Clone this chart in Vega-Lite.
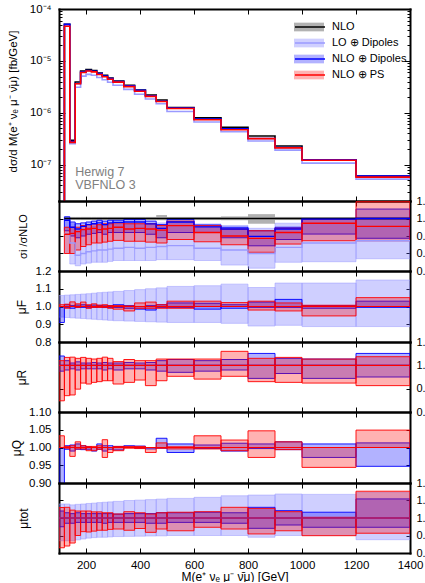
{
"$schema":"https://vega.github.io/schema/vega-lite/v6.json",
"background":"white",
"padding":{"left":7,"top":3,"right":0,"bottom":0},
"spacing":0,
"bounds":"flush",
"config":{
 "view":{"stroke":null},
 "font":"Liberation Sans",
 "axis":{"domain":true,"domainWidth":2,"domainColor":"black","domainCap":"square","grid":false,"ticks":true,"tickColor":"black","tickWidth":1,"tickSize":-4,"labelFont":"Liberation Sans","labelFontSize":11.5,"labelColor":"black","labelFlush":false,"labelOverlap":false,"labelPadding":12,"titleFont":"Liberation Sans","titleFontSize":12,"titleFontWeight":"normal","titleColor":"black","zindex":1},
 "axisX":{"tickSize":-5}
},
"datasets":{
"bins":[{"i":0,"lo":100,"hi":120},{"i":1,"lo":120,"hi":140},{"i":2,"lo":140,"hi":160},{"i":3,"lo":160,"hi":180},{"i":4,"lo":180,"hi":200},{"i":5,"lo":200,"hi":220},{"i":6,"lo":220,"hi":240},{"i":7,"lo":240,"hi":260},{"i":8,"lo":260,"hi":280},{"i":9,"lo":280,"hi":300},{"i":10,"lo":300,"hi":340},{"i":11,"lo":340,"hi":380},{"i":12,"lo":380,"hi":420},{"i":13,"lo":420,"hi":460},{"i":14,"lo":460,"hi":500},{"i":15,"lo":500,"hi":600},{"i":16,"lo":600,"hi":700},{"i":17,"lo":700,"hi":800},{"i":18,"lo":800,"hi":900},{"i":19,"lo":900,"hi":1000},{"i":20,"lo":1000,"hi":1200},{"i":21,"lo":1200,"hi":1400}],
"main":[
{"s":"NLO","i":0,"v":1e-10},{"s":"NLO","i":1,"v":5.1e-5},{"s":"NLO","i":2,"v":2.95e-7},{"s":"NLO","i":3,"v":3.92e-6},{"s":"NLO","i":4,"v":6.38e-6},{"s":"NLO","i":5,"v":6.79e-6},{"s":"NLO","i":6,"v":6.5e-6},{"s":"NLO","i":7,"v":5.85e-6},{"s":"NLO","i":8,"v":5.28e-6},{"s":"NLO","i":9,"v":4.69e-6},{"s":"NLO","i":10,"v":4.1e-6},{"s":"NLO","i":11,"v":3.39e-6},{"s":"NLO","i":12,"v":2.75e-6},{"s":"NLO","i":13,"v":2.2e-6},{"s":"NLO","i":14,"v":1.77e-6},{"s":"NLO","i":15,"v":1.26e-6},{"s":"NLO","i":16,"v":8.0e-7},{"s":"NLO","i":17,"v":5.26e-7},{"s":"NLO","i":18,"v":3.58e-7},{"s":"NLO","i":19,"v":2.29e-7},{"s":"NLO","i":20,"v":1.25e-7},{"s":"NLO","i":21,"v":6.05e-8},
{"s":"LO ⊕ Dipoles","i":0,"v":1e-10},{"s":"LO ⊕ Dipoles","i":1,"v":4.67e-5},{"s":"LO ⊕ Dipoles","i":2,"v":2.54e-7},{"s":"LO ⊕ Dipoles","i":3,"v":3.1e-6},{"s":"LO ⊕ Dipoles","i":4,"v":5.1e-6},{"s":"LO ⊕ Dipoles","i":5,"v":5.5e-6},{"s":"LO ⊕ Dipoles","i":6,"v":5.3e-6},{"s":"LO ⊕ Dipoles","i":7,"v":4.8e-6},{"s":"LO ⊕ Dipoles","i":8,"v":4.33e-6},{"s":"LO ⊕ Dipoles","i":9,"v":3.87e-6},{"s":"LO ⊕ Dipoles","i":10,"v":3.4e-6},{"s":"LO ⊕ Dipoles","i":11,"v":2.83e-6},{"s":"LO ⊕ Dipoles","i":12,"v":2.28e-6},{"s":"LO ⊕ Dipoles","i":13,"v":1.84e-6},{"s":"LO ⊕ Dipoles","i":14,"v":1.49e-6},{"s":"LO ⊕ Dipoles","i":15,"v":1.06e-6},{"s":"LO ⊕ Dipoles","i":16,"v":6.64e-7},{"s":"LO ⊕ Dipoles","i":17,"v":4.31e-7},{"s":"LO ⊕ Dipoles","i":18,"v":2.86e-7},{"s":"LO ⊕ Dipoles","i":19,"v":1.91e-7},{"s":"LO ⊕ Dipoles","i":20,"v":1.075e-7},{"s":"LO ⊕ Dipoles","i":21,"v":5.28e-8},
{"s":"NLO ⊕ Dipoles","i":0,"v":1e-10},{"s":"NLO ⊕ Dipoles","i":1,"v":5.05e-5},{"s":"NLO ⊕ Dipoles","i":2,"v":2.8e-7},{"s":"NLO ⊕ Dipoles","i":3,"v":3.68e-6},{"s":"NLO ⊕ Dipoles","i":4,"v":6.09e-6},{"s":"NLO ⊕ Dipoles","i":5,"v":6.55e-6},{"s":"NLO ⊕ Dipoles","i":6,"v":6.31e-6},{"s":"NLO ⊕ Dipoles","i":7,"v":5.7e-6},{"s":"NLO ⊕ Dipoles","i":8,"v":5.1e-6},{"s":"NLO ⊕ Dipoles","i":9,"v":4.57e-6},{"s":"NLO ⊕ Dipoles","i":10,"v":4.01e-6},{"s":"NLO ⊕ Dipoles","i":11,"v":3.32e-6},{"s":"NLO ⊕ Dipoles","i":12,"v":2.7e-6},{"s":"NLO ⊕ Dipoles","i":13,"v":2.13e-6},{"s":"NLO ⊕ Dipoles","i":14,"v":1.67e-6},{"s":"NLO ⊕ Dipoles","i":15,"v":1.235e-6},{"s":"NLO ⊕ Dipoles","i":16,"v":7.62e-7},{"s":"NLO ⊕ Dipoles","i":17,"v":4.94e-7},{"s":"NLO ⊕ Dipoles","i":18,"v":3.21e-7},{"s":"NLO ⊕ Dipoles","i":19,"v":2.15e-7},{"s":"NLO ⊕ Dipoles","i":20,"v":1.246e-7},{"s":"NLO ⊕ Dipoles","i":21,"v":6.05e-8},
{"s":"NLO ⊕ PS","i":0,"v":1e-10},{"s":"NLO ⊕ PS","i":1,"v":4.64e-5},{"s":"NLO ⊕ PS","i":2,"v":2.7e-7},{"s":"NLO ⊕ PS","i":3,"v":3.63e-6},{"s":"NLO ⊕ PS","i":4,"v":5.97e-6},{"s":"NLO ⊕ PS","i":5,"v":6.38e-6},{"s":"NLO ⊕ PS","i":6,"v":6.14e-6},{"s":"NLO ⊕ PS","i":7,"v":5.48e-6},{"s":"NLO ⊕ PS","i":8,"v":4.96e-6},{"s":"NLO ⊕ PS","i":9,"v":4.43e-6},{"s":"NLO ⊕ PS","i":10,"v":3.9e-6},{"s":"NLO ⊕ PS","i":11,"v":3.19e-6},{"s":"NLO ⊕ PS","i":12,"v":2.6e-6},{"s":"NLO ⊕ PS","i":13,"v":2.07e-6},{"s":"NLO ⊕ PS","i":14,"v":1.65e-6},{"s":"NLO ⊕ PS","i":15,"v":1.21e-6},{"s":"NLO ⊕ PS","i":16,"v":7.36e-7},{"s":"NLO ⊕ PS","i":17,"v":4.73e-7},{"s":"NLO ⊕ PS","i":18,"v":3.18e-7},{"s":"NLO ⊕ PS","i":19,"v":2.11e-7},{"s":"NLO ⊕ PS","i":20,"v":1.216e-7},{"s":"NLO ⊕ PS","i":21,"v":5.78e-8}
],
"ratio":[
{"p":"S","s":"LO ⊕ Dipoles","i":1,"c":0.915,"l":0.80,"h":0.99},{"p":"S","s":"LO ⊕ Dipoles","i":2,"c":0.86,"l":0.74,"h":0.97},{"p":"S","s":"LO ⊕ Dipoles","i":3,"c":0.79,"l":0.73,"h":0.93},{"p":"S","s":"LO ⊕ Dipoles","i":4,"c":0.80,"l":0.74,"h":0.94},{"p":"S","s":"LO ⊕ Dipoles","i":5,"c":0.81,"l":0.745,"h":0.95},{"p":"S","s":"LO ⊕ Dipoles","i":6,"c":0.815,"l":0.75,"h":0.955},{"p":"S","s":"LO ⊕ Dipoles","i":7,"c":0.82,"l":0.75,"h":0.96},{"p":"S","s":"LO ⊕ Dipoles","i":8,"c":0.82,"l":0.75,"h":0.96},{"p":"S","s":"LO ⊕ Dipoles","i":9,"c":0.825,"l":0.755,"h":0.965},{"p":"S","s":"LO ⊕ Dipoles","i":10,"c":0.83,"l":0.76,"h":0.97},{"p":"S","s":"LO ⊕ Dipoles","i":11,"c":0.835,"l":0.76,"h":0.97},{"p":"S","s":"LO ⊕ Dipoles","i":12,"c":0.83,"l":0.76,"h":0.97},{"p":"S","s":"LO ⊕ Dipoles","i":13,"c":0.835,"l":0.76,"h":0.97},{"p":"S","s":"LO ⊕ Dipoles","i":14,"c":0.84,"l":0.765,"h":0.975},{"p":"S","s":"LO ⊕ Dipoles","i":15,"c":0.845,"l":0.765,"h":0.98},{"p":"S","s":"LO ⊕ Dipoles","i":16,"c":0.83,"l":0.76,"h":0.969},{"p":"S","s":"LO ⊕ Dipoles","i":17,"c":0.82,"l":0.734,"h":0.96},{"p":"S","s":"LO ⊕ Dipoles","i":18,"c":0.80,"l":0.716,"h":0.944},{"p":"S","s":"LO ⊕ Dipoles","i":19,"c":0.835,"l":0.75,"h":0.973},{"p":"S","s":"LO ⊕ Dipoles","i":20,"c":0.86,"l":0.753,"h":0.997},{"p":"S","s":"LO ⊕ Dipoles","i":21,"c":0.873,"l":0.77,"h":1.0},
{"p":"S","s":"NLO","i":1,"c":1,"l":0.991,"h":1.009},{"p":"S","s":"NLO","i":2,"c":1,"l":0.991,"h":1.009},{"p":"S","s":"NLO","i":3,"c":1,"l":0.991,"h":1.009},{"p":"S","s":"NLO","i":4,"c":1,"l":0.991,"h":1.009},{"p":"S","s":"NLO","i":5,"c":1,"l":0.991,"h":1.009},{"p":"S","s":"NLO","i":6,"c":1,"l":0.991,"h":1.009},{"p":"S","s":"NLO","i":7,"c":1,"l":0.991,"h":1.009},{"p":"S","s":"NLO","i":8,"c":1,"l":0.991,"h":1.009},{"p":"S","s":"NLO","i":9,"c":1,"l":0.991,"h":1.009},{"p":"S","s":"NLO","i":10,"c":1,"l":0.991,"h":1.009},{"p":"S","s":"NLO","i":11,"c":1,"l":0.991,"h":1.009},{"p":"S","s":"NLO","i":12,"c":1,"l":0.991,"h":1.009},{"p":"S","s":"NLO","i":13,"c":1,"l":0.991,"h":1.009},{"p":"S","s":"NLO","i":14,"c":1,"l":0.99,"h":1.02},{"p":"S","s":"NLO","i":15,"c":1,"l":0.991,"h":1.009},{"p":"S","s":"NLO","i":16,"c":1,"l":0.991,"h":1.009},{"p":"S","s":"NLO","i":17,"c":1,"l":0.99,"h":1.012},{"p":"S","s":"NLO","i":18,"c":1,"l":0.97,"h":1.025},{"p":"S","s":"NLO","i":19,"c":1,"l":0.991,"h":1.009},{"p":"S","s":"NLO","i":20,"c":1,"l":0.991,"h":1.009},{"p":"S","s":"NLO","i":21,"c":1,"l":0.991,"h":1.009},
{"p":"S","s":"NLO ⊕ Dipoles","i":1,"c":0.99,"l":0.93,"h":1.01},{"p":"S","s":"NLO ⊕ Dipoles","i":2,"c":0.95,"l":0.90,"h":0.98},{"p":"S","s":"NLO ⊕ Dipoles","i":3,"c":0.94,"l":0.89,"h":0.97},{"p":"S","s":"NLO ⊕ Dipoles","i":4,"c":0.955,"l":0.90,"h":0.975},{"p":"S","s":"NLO ⊕ Dipoles","i":5,"c":0.965,"l":0.91,"h":0.98},{"p":"S","s":"NLO ⊕ Dipoles","i":6,"c":0.97,"l":0.915,"h":0.985},{"p":"S","s":"NLO ⊕ Dipoles","i":7,"c":0.975,"l":0.92,"h":0.99},{"p":"S","s":"NLO ⊕ Dipoles","i":8,"c":0.965,"l":0.91,"h":0.985},{"p":"S","s":"NLO ⊕ Dipoles","i":9,"c":0.975,"l":0.92,"h":0.99},{"p":"S","s":"NLO ⊕ Dipoles","i":10,"c":0.978,"l":0.92,"h":0.99},{"p":"S","s":"NLO ⊕ Dipoles","i":11,"c":0.98,"l":0.92,"h":0.995},{"p":"S","s":"NLO ⊕ Dipoles","i":12,"c":0.98,"l":0.92,"h":0.995},{"p":"S","s":"NLO ⊕ Dipoles","i":13,"c":0.969,"l":0.91,"h":0.985},{"p":"S","s":"NLO ⊕ Dipoles","i":14,"c":0.944,"l":0.89,"h":0.965},{"p":"S","s":"NLO ⊕ Dipoles","i":15,"c":0.98,"l":0.92,"h":0.995},{"p":"S","s":"NLO ⊕ Dipoles","i":16,"c":0.952,"l":0.92,"h":0.963},{"p":"S","s":"NLO ⊕ Dipoles","i":17,"c":0.94,"l":0.89,"h":0.95},{"p":"S","s":"NLO ⊕ Dipoles","i":18,"c":0.898,"l":0.844,"h":0.93},{"p":"S","s":"NLO ⊕ Dipoles","i":19,"c":0.94,"l":0.88,"h":0.95},{"p":"S","s":"NLO ⊕ Dipoles","i":20,"c":0.997,"l":0.911,"h":1.0},{"p":"S","s":"NLO ⊕ Dipoles","i":21,"c":1.0,"l":0.887,"h":1.054},
{"p":"S","s":"NLO ⊕ PS","i":1,"c":0.91,"l":0.80,"h":0.95},{"p":"S","s":"NLO ⊕ PS","i":2,"c":0.915,"l":0.80,"h":0.95},{"p":"S","s":"NLO ⊕ PS","i":3,"c":0.925,"l":0.82,"h":0.95},{"p":"S","s":"NLO ⊕ PS","i":4,"c":0.936,"l":0.84,"h":0.96},{"p":"S","s":"NLO ⊕ PS","i":5,"c":0.94,"l":0.85,"h":0.965},{"p":"S","s":"NLO ⊕ PS","i":6,"c":0.944,"l":0.86,"h":0.97},{"p":"S","s":"NLO ⊕ PS","i":7,"c":0.936,"l":0.86,"h":0.965},{"p":"S","s":"NLO ⊕ PS","i":8,"c":0.94,"l":0.865,"h":0.97},{"p":"S","s":"NLO ⊕ PS","i":9,"c":0.944,"l":0.87,"h":0.97},{"p":"S","s":"NLO ⊕ PS","i":10,"c":0.95,"l":0.875,"h":0.975},{"p":"S","s":"NLO ⊕ PS","i":11,"c":0.94,"l":0.87,"h":0.97},{"p":"S","s":"NLO ⊕ PS","i":12,"c":0.944,"l":0.87,"h":0.97},{"p":"S","s":"NLO ⊕ PS","i":13,"c":0.94,"l":0.865,"h":0.97},{"p":"S","s":"NLO ⊕ PS","i":14,"c":0.934,"l":0.86,"h":0.96},{"p":"S","s":"NLO ⊕ PS","i":15,"c":0.959,"l":0.88,"h":0.985},{"p":"S","s":"NLO ⊕ PS","i":16,"c":0.92,"l":0.867,"h":0.959},{"p":"S","s":"NLO ⊕ PS","i":17,"c":0.90,"l":0.85,"h":0.94},{"p":"S","s":"NLO ⊕ PS","i":18,"c":0.887,"l":0.807,"h":0.93},{"p":"S","s":"NLO ⊕ PS","i":19,"c":0.92,"l":0.854,"h":0.944},{"p":"S","s":"NLO ⊕ PS","i":20,"c":0.973,"l":0.873,"h":0.997},{"p":"S","s":"NLO ⊕ PS","i":21,"c":0.955,"l":0.873,"h":1.096},
{"p":"F","s":"LO ⊕ Dipoles","i":0,"l":0.94,"h":1.062},{"p":"F","s":"LO ⊕ Dipoles","i":1,"l":0.938,"h":1.064},{"p":"F","s":"LO ⊕ Dipoles","i":2,"l":0.936,"h":1.066},{"p":"F","s":"LO ⊕ Dipoles","i":3,"l":0.934,"h":1.068},{"p":"F","s":"LO ⊕ Dipoles","i":4,"l":0.932,"h":1.07},{"p":"F","s":"LO ⊕ Dipoles","i":5,"l":0.93,"h":1.072},{"p":"F","s":"LO ⊕ Dipoles","i":6,"l":0.928,"h":1.075},{"p":"F","s":"LO ⊕ Dipoles","i":7,"l":0.926,"h":1.078},{"p":"F","s":"LO ⊕ Dipoles","i":8,"l":0.924,"h":1.08},{"p":"F","s":"LO ⊕ Dipoles","i":9,"l":0.922,"h":1.082},{"p":"F","s":"LO ⊕ Dipoles","i":10,"l":0.92,"h":1.085},{"p":"F","s":"LO ⊕ Dipoles","i":11,"l":0.918,"h":1.09},{"p":"F","s":"LO ⊕ Dipoles","i":12,"l":0.916,"h":1.095},{"p":"F","s":"LO ⊕ Dipoles","i":13,"l":0.914,"h":1.1},{"p":"F","s":"LO ⊕ Dipoles","i":14,"l":0.912,"h":1.105},{"p":"F","s":"LO ⊕ Dipoles","i":15,"l":0.91,"h":1.113},{"p":"F","s":"LO ⊕ Dipoles","i":16,"l":0.91,"h":1.117},{"p":"F","s":"LO ⊕ Dipoles","i":17,"l":0.905,"h":1.126},{"p":"F","s":"LO ⊕ Dipoles","i":18,"l":0.89,"h":1.107},{"p":"F","s":"LO ⊕ Dipoles","i":19,"l":0.894,"h":1.132},{"p":"F","s":"LO ⊕ Dipoles","i":20,"l":0.887,"h":1.132},{"p":"F","s":"LO ⊕ Dipoles","i":21,"l":0.887,"h":1.149},
{"p":"F","s":"NLO ⊕ Dipoles","i":0,"l":0.91,"h":1.0},{"p":"F","s":"NLO ⊕ Dipoles","i":1,"l":0.995,"h":1.01},{"p":"F","s":"NLO ⊕ Dipoles","i":2,"l":0.99,"h":1.005},{"p":"F","s":"NLO ⊕ Dipoles","i":3,"l":0.995,"h":1.008},{"p":"F","s":"NLO ⊕ Dipoles","i":4,"l":0.995,"h":1.01},{"p":"F","s":"NLO ⊕ Dipoles","i":5,"l":0.993,"h":1.005},{"p":"F","s":"NLO ⊕ Dipoles","i":6,"l":0.995,"h":1.008},{"p":"F","s":"NLO ⊕ Dipoles","i":7,"l":0.996,"h":1.006},{"p":"F","s":"NLO ⊕ Dipoles","i":8,"l":0.994,"h":1.004},{"p":"F","s":"NLO ⊕ Dipoles","i":9,"l":0.995,"h":1.005},{"p":"F","s":"NLO ⊕ Dipoles","i":10,"l":0.995,"h":1.01},{"p":"F","s":"NLO ⊕ Dipoles","i":11,"l":0.99,"h":1.005},{"p":"F","s":"NLO ⊕ Dipoles","i":12,"l":0.985,"h":1.0},{"p":"F","s":"NLO ⊕ Dipoles","i":13,"l":0.98,"h":1.005},{"p":"F","s":"NLO ⊕ Dipoles","i":14,"l":0.995,"h":1.01},{"p":"F","s":"NLO ⊕ Dipoles","i":15,"l":0.995,"h":1.02},{"p":"F","s":"NLO ⊕ Dipoles","i":16,"l":0.985,"h":1.018},{"p":"F","s":"NLO ⊕ Dipoles","i":17,"l":0.99,"h":1.01},{"p":"F","s":"NLO ⊕ Dipoles","i":18,"l":0.995,"h":1.025},{"p":"F","s":"NLO ⊕ Dipoles","i":19,"l":0.995,"h":1.04},{"p":"F","s":"NLO ⊕ Dipoles","i":20,"l":0.99,"h":1.005},{"p":"F","s":"NLO ⊕ Dipoles","i":21,"l":0.995,"h":1.03},
{"p":"F","s":"NLO ⊕ PS","i":0,"l":1.0,"h":1.01},{"p":"F","s":"NLO ⊕ PS","i":1,"l":0.99,"h":1.013},{"p":"F","s":"NLO ⊕ PS","i":2,"l":1.0,"h":1.026},{"p":"F","s":"NLO ⊕ PS","i":3,"l":0.995,"h":1.015},{"p":"F","s":"NLO ⊕ PS","i":4,"l":1.0,"h":1.025},{"p":"F","s":"NLO ⊕ PS","i":5,"l":0.99,"h":1.01},{"p":"F","s":"NLO ⊕ PS","i":6,"l":0.995,"h":1.015},{"p":"F","s":"NLO ⊕ PS","i":7,"l":0.995,"h":1.008},{"p":"F","s":"NLO ⊕ PS","i":8,"l":0.995,"h":1.01},{"p":"F","s":"NLO ⊕ PS","i":9,"l":0.99,"h":1.005},{"p":"F","s":"NLO ⊕ PS","i":10,"l":0.985,"h":1.005},{"p":"F","s":"NLO ⊕ PS","i":11,"l":0.975,"h":1.003},{"p":"F","s":"NLO ⊕ PS","i":12,"l":0.99,"h":1.02},{"p":"F","s":"NLO ⊕ PS","i":13,"l":0.99,"h":1.025},{"p":"F","s":"NLO ⊕ PS","i":14,"l":0.99,"h":1.01},{"p":"F","s":"NLO ⊕ PS","i":15,"l":0.99,"h":1.03},{"p":"F","s":"NLO ⊕ PS","i":16,"l":1.0,"h":1.03},{"p":"F","s":"NLO ⊕ PS","i":17,"l":1.0,"h":1.022},{"p":"F","s":"NLO ⊕ PS","i":18,"l":0.98,"h":1.03},{"p":"F","s":"NLO ⊕ PS","i":19,"l":0.975,"h":1.02},{"p":"F","s":"NLO ⊕ PS","i":20,"l":0.947,"h":1.007},{"p":"F","s":"NLO ⊕ PS","i":21,"l":1.0,"h":1.05},
{"p":"R","s":"NLO ⊕ Dipoles","i":0,"l":0.975,"h":1.04},{"p":"R","s":"NLO ⊕ Dipoles","i":1,"l":0.98,"h":1.02},{"p":"R","s":"NLO ⊕ Dipoles","i":2,"l":0.985,"h":1.01},{"p":"R","s":"NLO ⊕ Dipoles","i":3,"l":0.98,"h":1.015},{"p":"R","s":"NLO ⊕ Dipoles","i":4,"l":0.985,"h":1.01},{"p":"R","s":"NLO ⊕ Dipoles","i":5,"l":0.985,"h":1.01},{"p":"R","s":"NLO ⊕ Dipoles","i":6,"l":0.985,"h":1.012},{"p":"R","s":"NLO ⊕ Dipoles","i":7,"l":0.985,"h":1.01},{"p":"R","s":"NLO ⊕ Dipoles","i":8,"l":0.98,"h":1.012},{"p":"R","s":"NLO ⊕ Dipoles","i":9,"l":0.985,"h":1.01},{"p":"R","s":"NLO ⊕ Dipoles","i":10,"l":0.98,"h":1.01},{"p":"R","s":"NLO ⊕ Dipoles","i":11,"l":0.985,"h":1.012},{"p":"R","s":"NLO ⊕ Dipoles","i":12,"l":0.985,"h":1.01},{"p":"R","s":"NLO ⊕ Dipoles","i":13,"l":0.98,"h":1.012},{"p":"R","s":"NLO ⊕ Dipoles","i":14,"l":0.975,"h":1.02},{"p":"R","s":"NLO ⊕ Dipoles","i":15,"l":0.97,"h":1.025},{"p":"R","s":"NLO ⊕ Dipoles","i":16,"l":0.975,"h":1.02},{"p":"R","s":"NLO ⊕ Dipoles","i":17,"l":0.98,"h":1.025},{"p":"R","s":"NLO ⊕ Dipoles","i":18,"l":0.944,"h":1.051},{"p":"R","s":"NLO ⊕ Dipoles","i":19,"l":0.965,"h":1.03},{"p":"R","s":"NLO ⊕ Dipoles","i":20,"l":0.944,"h":1.027},{"p":"R","s":"NLO ⊕ Dipoles","i":21,"l":0.95,"h":1.051},
{"p":"R","s":"NLO ⊕ PS","i":0,"l":0.848,"h":1.02},{"p":"R","s":"NLO ⊕ PS","i":1,"l":0.87,"h":1.034},{"p":"R","s":"NLO ⊕ PS","i":2,"l":0.873,"h":1.035},{"p":"R","s":"NLO ⊕ PS","i":3,"l":0.898,"h":1.03},{"p":"R","s":"NLO ⊕ PS","i":4,"l":0.924,"h":1.034},{"p":"R","s":"NLO ⊕ PS","i":5,"l":0.92,"h":1.03},{"p":"R","s":"NLO ⊕ PS","i":6,"l":0.927,"h":1.027},{"p":"R","s":"NLO ⊕ PS","i":7,"l":0.93,"h":1.03},{"p":"R","s":"NLO ⊕ PS","i":8,"l":0.934,"h":1.035},{"p":"R","s":"NLO ⊕ PS","i":9,"l":0.934,"h":1.03},{"p":"R","s":"NLO ⊕ PS","i":10,"l":0.92,"h":1.016},{"p":"R","s":"NLO ⊕ PS","i":11,"l":0.927,"h":1.025},{"p":"R","s":"NLO ⊕ PS","i":12,"l":0.937,"h":1.02},{"p":"R","s":"NLO ⊕ PS","i":13,"l":0.913,"h":1.02},{"p":"R","s":"NLO ⊕ PS","i":14,"l":0.934,"h":1.027},{"p":"R","s":"NLO ⊕ PS","i":15,"l":0.953,"h":1.027},{"p":"R","s":"NLO ⊕ PS","i":16,"l":0.941,"h":1.027},{"p":"R","s":"NLO ⊕ PS","i":17,"l":0.953,"h":1.06},{"p":"R","s":"NLO ⊕ PS","i":18,"l":0.93,"h":1.03},{"p":"R","s":"NLO ⊕ PS","i":19,"l":0.927,"h":1.034},{"p":"R","s":"NLO ⊕ PS","i":20,"l":0.924,"h":1.027},{"p":"R","s":"NLO ⊕ PS","i":21,"l":0.913,"h":1.037},
{"p":"Q","s":"NLO ⊕ Dipoles","i":0,"l":0.85,"h":1.0},{"p":"Q","s":"NLO ⊕ Dipoles","i":1,"l":0.995,"h":1.005},{"p":"Q","s":"NLO ⊕ Dipoles","i":2,"l":0.99,"h":1.007},{"p":"Q","s":"NLO ⊕ Dipoles","i":3,"l":0.995,"h":1.01},{"p":"Q","s":"NLO ⊕ Dipoles","i":4,"l":0.994,"h":1.005},{"p":"Q","s":"NLO ⊕ Dipoles","i":5,"l":0.995,"h":1.002},{"p":"Q","s":"NLO ⊕ Dipoles","i":6,"l":0.99,"h":1.0},{"p":"Q","s":"NLO ⊕ Dipoles","i":7,"l":0.995,"h":1.01},{"p":"Q","s":"NLO ⊕ Dipoles","i":8,"l":0.99,"h":1.005},{"p":"Q","s":"NLO ⊕ Dipoles","i":9,"l":0.995,"h":1.005},{"p":"Q","s":"NLO ⊕ Dipoles","i":10,"l":0.993,"h":1.003},{"p":"Q","s":"NLO ⊕ Dipoles","i":11,"l":1.0,"h":1.005},{"p":"Q","s":"NLO ⊕ Dipoles","i":12,"l":0.998,"h":1.004},{"p":"Q","s":"NLO ⊕ Dipoles","i":13,"l":0.996,"h":1.0},{"p":"Q","s":"NLO ⊕ Dipoles","i":14,"l":0.998,"h":1.026},{"p":"Q","s":"NLO ⊕ Dipoles","i":15,"l":0.986,"h":1.01},{"p":"Q","s":"NLO ⊕ Dipoles","i":16,"l":0.997,"h":1.007},{"p":"Q","s":"NLO ⊕ Dipoles","i":17,"l":0.99,"h":1.012},{"p":"Q","s":"NLO ⊕ Dipoles","i":18,"l":0.997,"h":1.01},{"p":"Q","s":"NLO ⊕ Dipoles","i":19,"l":0.994,"h":1.016},{"p":"Q","s":"NLO ⊕ Dipoles","i":20,"l":0.972,"h":1.01},{"p":"Q","s":"NLO ⊕ Dipoles","i":21,"l":0.947,"h":1.013},
{"p":"Q","s":"NLO ⊕ PS","i":0,"l":1.0,"h":1.033},{"p":"Q","s":"NLO ⊕ PS","i":1,"l":0.998,"h":1.003},{"p":"Q","s":"NLO ⊕ PS","i":2,"l":0.975,"h":1.005},{"p":"Q","s":"NLO ⊕ PS","i":3,"l":0.996,"h":1.016},{"p":"Q","s":"NLO ⊕ PS","i":4,"l":0.996,"h":1.005},{"p":"Q","s":"NLO ⊕ PS","i":5,"l":0.991,"h":1.003},{"p":"Q","s":"NLO ⊕ PS","i":6,"l":0.991,"h":1.003},{"p":"Q","s":"NLO ⊕ PS","i":7,"l":0.995,"h":1.005},{"p":"Q","s":"NLO ⊕ PS","i":8,"l":0.972,"h":1.022},{"p":"Q","s":"NLO ⊕ PS","i":9,"l":0.986,"h":1.0},{"p":"Q","s":"NLO ⊕ PS","i":10,"l":0.991,"h":1.003},{"p":"Q","s":"NLO ⊕ PS","i":11,"l":0.998,"h":1.003},{"p":"Q","s":"NLO ⊕ PS","i":12,"l":0.997,"h":1.003},{"p":"Q","s":"NLO ⊕ PS","i":13,"l":0.986,"h":1.0},{"p":"Q","s":"NLO ⊕ PS","i":14,"l":0.998,"h":1.013},{"p":"Q","s":"NLO ⊕ PS","i":15,"l":0.996,"h":1.002},{"p":"Q","s":"NLO ⊕ PS","i":16,"l":0.996,"h":1.033},{"p":"Q","s":"NLO ⊕ PS","i":17,"l":0.991,"h":1.021},{"p":"Q","s":"NLO ⊕ PS","i":18,"l":0.972,"h":1.047},{"p":"Q","s":"NLO ⊕ PS","i":19,"l":0.994,"h":1.016},{"p":"Q","s":"NLO ⊕ PS","i":20,"l":0.944,"h":1.0},{"p":"Q","s":"NLO ⊕ PS","i":21,"l":1.0,"h":1.049},
{"p":"T","s":"LO ⊕ Dipoles","i":0,"l":0.87,"h":1.08},{"p":"T","s":"LO ⊕ Dipoles","i":1,"l":0.87,"h":1.08},{"p":"T","s":"LO ⊕ Dipoles","i":2,"l":0.87,"h":1.075},{"p":"T","s":"LO ⊕ Dipoles","i":3,"l":0.875,"h":1.078},{"p":"T","s":"LO ⊕ Dipoles","i":4,"l":0.88,"h":1.08},{"p":"T","s":"LO ⊕ Dipoles","i":5,"l":0.885,"h":1.083},{"p":"T","s":"LO ⊕ Dipoles","i":6,"l":0.888,"h":1.085},{"p":"T","s":"LO ⊕ Dipoles","i":7,"l":0.89,"h":1.088},{"p":"T","s":"LO ⊕ Dipoles","i":8,"l":0.89,"h":1.09},{"p":"T","s":"LO ⊕ Dipoles","i":9,"l":0.892,"h":1.092},{"p":"T","s":"LO ⊕ Dipoles","i":10,"l":0.894,"h":1.095},{"p":"T","s":"LO ⊕ Dipoles","i":11,"l":0.895,"h":1.1},{"p":"T","s":"LO ⊕ Dipoles","i":12,"l":0.896,"h":1.102},{"p":"T","s":"LO ⊕ Dipoles","i":13,"l":0.897,"h":1.105},{"p":"T","s":"LO ⊕ Dipoles","i":14,"l":0.898,"h":1.108},{"p":"T","s":"LO ⊕ Dipoles","i":15,"l":0.9,"h":1.112},{"p":"T","s":"LO ⊕ Dipoles","i":16,"l":0.9,"h":1.118},{"p":"T","s":"LO ⊕ Dipoles","i":17,"l":0.9,"h":1.127},{"p":"T","s":"LO ⊕ Dipoles","i":18,"l":0.89,"h":1.131},{"p":"T","s":"LO ⊕ Dipoles","i":19,"l":0.9,"h":1.137},{"p":"T","s":"LO ⊕ Dipoles","i":20,"l":0.9,"h":1.135},{"p":"T","s":"LO ⊕ Dipoles","i":21,"l":0.876,"h":1.147},
{"p":"T","s":"NLO ⊕ Dipoles","i":0,"l":0.95,"h":1.04},{"p":"T","s":"NLO ⊕ Dipoles","i":1,"l":0.97,"h":1.03},{"p":"T","s":"NLO ⊕ Dipoles","i":2,"l":0.97,"h":1.025},{"p":"T","s":"NLO ⊕ Dipoles","i":3,"l":0.975,"h":1.03},{"p":"T","s":"NLO ⊕ Dipoles","i":4,"l":0.975,"h":1.025},{"p":"T","s":"NLO ⊕ Dipoles","i":5,"l":0.975,"h":1.025},{"p":"T","s":"NLO ⊕ Dipoles","i":6,"l":0.975,"h":1.025},{"p":"T","s":"NLO ⊕ Dipoles","i":7,"l":0.975,"h":1.025},{"p":"T","s":"NLO ⊕ Dipoles","i":8,"l":0.97,"h":1.025},{"p":"T","s":"NLO ⊕ Dipoles","i":9,"l":0.975,"h":1.025},{"p":"T","s":"NLO ⊕ Dipoles","i":10,"l":0.975,"h":1.022},{"p":"T","s":"NLO ⊕ Dipoles","i":11,"l":0.975,"h":1.025},{"p":"T","s":"NLO ⊕ Dipoles","i":12,"l":0.975,"h":1.025},{"p":"T","s":"NLO ⊕ Dipoles","i":13,"l":0.97,"h":1.025},{"p":"T","s":"NLO ⊕ Dipoles","i":14,"l":0.97,"h":1.03},{"p":"T","s":"NLO ⊕ Dipoles","i":15,"l":0.975,"h":1.03},{"p":"T","s":"NLO ⊕ Dipoles","i":16,"l":0.975,"h":1.033},{"p":"T","s":"NLO ⊕ Dipoles","i":17,"l":0.97,"h":1.03},{"p":"T","s":"NLO ⊕ Dipoles","i":18,"l":0.941,"h":1.061},{"p":"T","s":"NLO ⊕ Dipoles","i":19,"l":0.96,"h":1.042},{"p":"T","s":"NLO ⊕ Dipoles","i":20,"l":0.947,"h":1.033},{"p":"T","s":"NLO ⊕ Dipoles","i":21,"l":0.947,"h":1.109},
{"p":"T","s":"NLO ⊕ PS","i":0,"l":0.83,"h":1.06},{"p":"T","s":"NLO ⊕ PS","i":1,"l":0.84,"h":1.061},{"p":"T","s":"NLO ⊕ PS","i":2,"l":0.857,"h":1.045},{"p":"T","s":"NLO ⊕ PS","i":3,"l":0.9,"h":1.04},{"p":"T","s":"NLO ⊕ PS","i":4,"l":0.922,"h":1.04},{"p":"T","s":"NLO ⊕ PS","i":5,"l":0.92,"h":1.04},{"p":"T","s":"NLO ⊕ PS","i":6,"l":0.925,"h":1.035},{"p":"T","s":"NLO ⊕ PS","i":7,"l":0.93,"h":1.035},{"p":"T","s":"NLO ⊕ PS","i":8,"l":0.93,"h":1.03},{"p":"T","s":"NLO ⊕ PS","i":9,"l":0.935,"h":1.03},{"p":"T","s":"NLO ⊕ PS","i":10,"l":0.937,"h":1.023},{"p":"T","s":"NLO ⊕ PS","i":11,"l":0.93,"h":1.036},{"p":"T","s":"NLO ⊕ PS","i":12,"l":0.94,"h":1.03},{"p":"T","s":"NLO ⊕ PS","i":13,"l":0.918,"h":1.023},{"p":"T","s":"NLO ⊕ PS","i":14,"l":0.937,"h":1.03},{"p":"T","s":"NLO ⊕ PS","i":15,"l":0.927,"h":1.033},{"p":"T","s":"NLO ⊕ PS","i":16,"l":0.947,"h":1.036},{"p":"T","s":"NLO ⊕ PS","i":17,"l":0.937,"h":1.061},{"p":"T","s":"NLO ⊕ PS","i":18,"l":0.909,"h":1.055},{"p":"T","s":"NLO ⊕ PS","i":19,"l":0.927,"h":1.036},{"p":"T","s":"NLO ⊕ PS","i":20,"l":0.899,"h":1.004},{"p":"T","s":"NLO ⊕ PS","i":21,"l":0.913,"h":1.153}
]
},
"vconcat":[
{
 "width":351,"height":192,
 "layer":[
  {"data":{"name":"main"},
   "transform":[{"lookup":"i","from":{"data":{"name":"bins"},"key":"i","fields":["lo","hi"]}},{"fold":["lo","hi"],"as":["edge","x"]}],
   "mark":{"type":"line","clip":true,"strokeWidth":1.6},
   "encoding":{
    "x":{"field":"x","type":"quantitative","scale":{"domain":[100,1400],"nice":false},"axis":{"orient":"bottom","values":[200,400,600,800,1000,1200],"labels":false,"title":null}},
    "y":{"field":"v","type":"quantitative","scale":{"type":"log","domain":[2e-8,1e-4],"nice":false},"axis":{"orient":"left","values":[2e-8,3e-8,4e-8,5e-8,6e-8,7e-8,8e-8,9e-8,1e-7,2e-7,3e-7,4e-7,5e-7,6e-7,7e-7,8e-7,9e-7,1e-6,2e-6,3e-6,4e-6,5e-6,6e-6,7e-6,8e-6,9e-6,1e-5,2e-5,3e-5,4e-5,5e-5,6e-5,7e-5,8e-5,9e-5,1e-4],"tickSize":{"condition":{"test":"indexof([1e-7,1e-6,1e-5,1e-4], datum.value) >= 0","value":-6},"value":-3},"labelExpr":"datum.value==1e-4?'10⁻⁴':datum.value==1e-5?'10⁻⁵':datum.value==1e-6?'10⁻⁶':datum.value==1e-7?'10⁻⁷':''","labelPadding":14,"title":"dσ/d M(e⁺ νₑ μ⁻ ν̄μ) [fb/GeV]","titleX":-45.5,"titleY":92,"titleBaseline":"middle","titleFontSize":11.5}},
    "stroke":{"field":"s","type":"nominal","scale":{"domain":["NLO","LO ⊕ Dipoles","NLO ⊕ Dipoles","NLO ⊕ PS"],"range":["#000000","#9a9aff","#0000ff","#ff0000"]},"legend":{"title":null,"orient":"none","legendX":235,"legendY":10,"symbolType":"M-1,-0.55M-1,0.55M-1,0H1","symbolSize":900,"symbolStrokeWidth":1.5,"clipHeight":16,"rowPadding":0,"padding":0,"labelFontSize":11,"labelOffset":6,"labelFont":"Liberation Sans","labelColor":"black","zindex":2}},
    "order":{"value":null}
   }},
  {"data":{"values":[{"a":1}]},
   "mark":{"type":"text","align":"left","baseline":"alphabetic","fontSize":12.5,"color":"#808080","lineBreak":"\n","lineHeight":13},
   "encoding":{
    "x":{"datum":160,"type":"quantitative","scale":{"domain":[100,1400],"nice":false},"axis":{"orient":"top","values":[200,400,600,800,1000,1200],"labels":false,"title":null}},
    "y":{"datum":5.98e-8,"type":"quantitative","scale":{"type":"log","domain":[2e-8,1e-4],"nice":false},"axis":{"orient":"right","values":[2e-8,3e-8,4e-8,5e-8,6e-8,7e-8,8e-8,9e-8,1e-7,2e-7,3e-7,4e-7,5e-7,6e-7,7e-7,8e-7,9e-7,1e-6,2e-6,3e-6,4e-6,5e-6,6e-6,7e-6,8e-6,9e-6,1e-5,2e-5,3e-5,4e-5,5e-5,6e-5,7e-5,8e-5,9e-5,1e-4],"tickSize":{"condition":{"test":"indexof([1e-7,1e-6,1e-5,1e-4], datum.value) >= 0","value":-6},"value":-3},"labels":false,"title":null}},
    "text":{"value":"Herwig 7\nVBFNLO 3"}
   }}
 ],
 "resolve":{"axis":{"x":"independent","y":"independent"}}
},
{
 "width":351,"height":70,
 "layer":[
  {"data":{"name":"ratio"},
   "transform":[{"filter":"datum.p==='S'"},{"lookup":"i","from":{"data":{"name":"bins"},"key":"i","fields":["lo","hi"]}}],
   "mark":{"type":"rect","clip":true,"fillOpacity":0.3,"strokeWidth":1},
   "encoding":{
    "x":{"field":"lo","type":"quantitative","scale":{"domain":[100,1400],"nice":false},"axis":{"orient":"bottom","values":[200,400,600,800,1000,1200],"labels":false,"title":null}},
    "x2":{"field":"hi"},
    "y":{"field":"l","type":"quantitative","scale":{"domain":[0.7,1.1],"nice":false},"axis":{"orient":"left","values":[0.7,0.8,0.9,1.0,1.1],"labels":false,"title":"σi /σNLO","titleX":-35.5,"titleY":35,"titleBaseline":"middle","titleFontSize":11}},
    "y2":{"field":"h"},
    "fill":{"field":"s","type":"nominal","sort":["NLO","LO ⊕ Dipoles","NLO ⊕ Dipoles","NLO ⊕ PS"],"scale":{"range":["#000000","#6060ff","#0000ff","#ff0000"]},"legend":{"title":null,"orient":"none","legendX":235,"legendY":10,"symbolType":"M-1,-0.55M-1,0.55M-1,-0.29H1V0.29H-1Z","symbolSize":900,"symbolStrokeWidth":0,"symbolOpacity":0.3,"clipHeight":16,"rowPadding":0,"padding":0,"labelFontSize":11,"labelOffset":6,"labelExpr":"''","zindex":1}},
    "stroke":{"field":"s","type":"nominal","scale":{"domain":["NLO","LO ⊕ Dipoles","NLO ⊕ Dipoles","NLO ⊕ PS"],"range":["#000000","#9a9aff","#0000ff","#ff0000"]}},
    "strokeOpacity":{"condition":[{"test":"datum.s==='NLO'","value":0},{"test":"datum.s==='LO ⊕ Dipoles'","value":0.5}],"value":0.9}
   }},
  {"data":{"name":"ratio"},
   "transform":[{"filter":"datum.p==='S'"},{"lookup":"i","from":{"data":{"name":"bins"},"key":"i","fields":["lo","hi"]}},{"fold":["lo","hi"],"as":["edge","x"]}],
   "mark":{"type":"line","clip":true,"strokeWidth":1.3},
   "encoding":{
    "x":{"field":"x","type":"quantitative","scale":{"domain":[100,1400],"nice":false},"axis":{"orient":"top","values":[200,400,600,800,1000,1200],"labels":false,"title":null}},
    "y":{"field":"c","type":"quantitative","scale":{"domain":[0.7,1.1],"nice":false},"axis":{"orient":"right","values":[0.7,0.8,0.9,1.0,1.1],"labelExpr":"slice(format(datum.value,'.1f'),0,2)","labelPadding":10,"labelFontSize":11,"title":null}},
    "stroke":{"field":"s","type":"nominal","scale":{"domain":["NLO","LO ⊕ Dipoles","NLO ⊕ Dipoles","NLO ⊕ PS"],"range":["#000000","#9a9aff","#0000ff","#ff0000"]}},
    "order":{"value":null}
   }}
 ],
 "resolve":{"axis":{"x":"independent","y":"independent"}}
},
{
 "width":351,"height":71,
 "layer":[
  {"data":{"name":"ratio"},
   "transform":[{"filter":"datum.p==='F'"},{"lookup":"i","from":{"data":{"name":"bins"},"key":"i","fields":["lo","hi"]}}],
   "mark":{"type":"rect","clip":true,"fillOpacity":0.3,"strokeWidth":1},
   "encoding":{
    "x":{"field":"lo","type":"quantitative","scale":{"domain":[100,1400],"nice":false},"axis":{"orient":"bottom","values":[200,400,600,800,1000,1200],"labels":false,"title":null}},
    "x2":{"field":"hi"},
    "y":{"field":"l","type":"quantitative","scale":{"domain":[0.8,1.2],"nice":false},"axis":{"orient":"left","values":[0.8,0.9,1.0,1.1,1.2],"format":".1f","labelPadding":12,"title":"μF","titleX":-37.2,"titleY":35.5,"titleBaseline":"middle"}},
    "y2":{"field":"h"},
    "fill":{"field":"s","type":"nominal","sort":["NLO","LO ⊕ Dipoles","NLO ⊕ Dipoles","NLO ⊕ PS"],"scale":{"range":["#000000","#6060ff","#0000ff","#ff0000"]}},
    "stroke":{"field":"s","type":"nominal","scale":{"domain":["NLO","LO ⊕ Dipoles","NLO ⊕ Dipoles","NLO ⊕ PS"],"range":["#000000","#9a9aff","#0000ff","#ff0000"]}},
    "strokeOpacity":{"condition":[{"test":"datum.s==='NLO'","value":0},{"test":"datum.s==='LO ⊕ Dipoles'","value":0.5}],"value":0.9}
   }},
  {"data":{"name":"ratio"},
   "transform":[{"filter":"datum.p==='F'"},{"lookup":"i","from":{"data":{"name":"bins"},"key":"i","fields":["lo","hi"]}},{"fold":["lo","hi"],"as":["edge","x"]}],
   "mark":{"type":"line","clip":true,"strokeWidth":1.2},
   "encoding":{
    "x":{"field":"x","type":"quantitative","scale":{"domain":[100,1400],"nice":false},"axis":{"orient":"top","values":[200,400,600,800,1000,1200],"labels":false,"title":null}},
    "y":{"datum":1,"type":"quantitative","scale":{"domain":[0.8,1.2],"nice":false},"axis":{"orient":"right","values":[0.8,0.9,1.0,1.1,1.2],"labels":false,"title":null}},
    "stroke":{"field":"s","type":"nominal","scale":{"domain":["NLO","LO ⊕ Dipoles","NLO ⊕ Dipoles","NLO ⊕ PS"],"range":["#000000","#9a9aff","#0000ff","#ff0000"]}},
    "order":{"value":null}
   }}
 ],
 "resolve":{"axis":{"x":"independent","y":"independent"}}
},
{
 "width":351,"height":70,
 "layer":[
  {"data":{"name":"ratio"},
   "transform":[{"filter":"datum.p==='R'"},{"lookup":"i","from":{"data":{"name":"bins"},"key":"i","fields":["lo","hi"]}}],
   "mark":{"type":"rect","clip":true,"fillOpacity":0.3,"strokeWidth":1},
   "encoding":{
    "x":{"field":"lo","type":"quantitative","scale":{"domain":[100,1400],"nice":false},"axis":{"orient":"bottom","values":[200,400,600,800,1000,1200],"labels":false,"title":null}},
    "x2":{"field":"hi"},
    "y":{"field":"l","type":"quantitative","scale":{"domain":[0.8,1.1],"nice":false},"axis":{"orient":"left","values":[0.8,0.9,1.0,1.1],"labels":false,"title":"μR","titleX":-37.3,"titleY":35,"titleBaseline":"middle"}},
    "y2":{"field":"h"},
    "fill":{"field":"s","type":"nominal","sort":["NLO","LO ⊕ Dipoles","NLO ⊕ Dipoles","NLO ⊕ PS"],"scale":{"range":["#000000","#6060ff","#0000ff","#ff0000"]}},
    "stroke":{"field":"s","type":"nominal","scale":{"domain":["NLO","LO ⊕ Dipoles","NLO ⊕ Dipoles","NLO ⊕ PS"],"range":["#000000","#9a9aff","#0000ff","#ff0000"]}},
    "strokeOpacity":{"condition":[{"test":"datum.s==='NLO'","value":0},{"test":"datum.s==='LO ⊕ Dipoles'","value":0.5}],"value":0.9}
   }},
  {"data":{"name":"ratio"},
   "transform":[{"filter":"datum.p==='R'"},{"lookup":"i","from":{"data":{"name":"bins"},"key":"i","fields":["lo","hi"]}},{"fold":["lo","hi"],"as":["edge","x"]}],
   "mark":{"type":"line","clip":true,"strokeWidth":1.2},
   "encoding":{
    "x":{"field":"x","type":"quantitative","scale":{"domain":[100,1400],"nice":false},"axis":{"orient":"top","values":[200,400,600,800,1000,1200],"labels":false,"title":null}},
    "y":{"datum":1,"type":"quantitative","scale":{"domain":[0.8,1.1],"nice":false},"axis":{"orient":"right","values":[0.8,0.9,1.0,1.1],"labelExpr":"slice(format(datum.value,'.1f'),0,2)","labelPadding":10,"labelFontSize":11,"title":null}},
    "stroke":{"field":"s","type":"nominal","scale":{"domain":["NLO","LO ⊕ Dipoles","NLO ⊕ Dipoles","NLO ⊕ PS"],"range":["#000000","#9a9aff","#0000ff","#ff0000"]}},
    "order":{"value":null}
   }}
 ],
 "resolve":{"axis":{"x":"independent","y":"independent"}}
},
{
 "width":351,"height":71,
 "layer":[
  {"data":{"name":"ratio"},
   "transform":[{"filter":"datum.p==='Q'"},{"lookup":"i","from":{"data":{"name":"bins"},"key":"i","fields":["lo","hi"]}}],
   "mark":{"type":"rect","clip":true,"fillOpacity":0.3,"strokeWidth":1},
   "encoding":{
    "x":{"field":"lo","type":"quantitative","scale":{"domain":[100,1400],"nice":false},"axis":{"orient":"bottom","values":[200,400,600,800,1000,1200],"labels":false,"title":null}},
    "x2":{"field":"hi"},
    "y":{"field":"l","type":"quantitative","scale":{"domain":[0.9,1.1],"nice":false},"axis":{"orient":"left","values":[0.9,0.95,1.0,1.05,1.1],"format":".2f","labelPadding":12,"title":"μQ","titleX":-42.5,"titleY":35.5,"titleBaseline":"middle"}},
    "y2":{"field":"h"},
    "fill":{"field":"s","type":"nominal","sort":["NLO","LO ⊕ Dipoles","NLO ⊕ Dipoles","NLO ⊕ PS"],"scale":{"range":["#000000","#6060ff","#0000ff","#ff0000"]}},
    "stroke":{"field":"s","type":"nominal","scale":{"domain":["NLO","LO ⊕ Dipoles","NLO ⊕ Dipoles","NLO ⊕ PS"],"range":["#000000","#9a9aff","#0000ff","#ff0000"]}},
    "strokeOpacity":{"condition":[{"test":"datum.s==='NLO'","value":0},{"test":"datum.s==='LO ⊕ Dipoles'","value":0.5}],"value":0.9}
   }},
  {"data":{"name":"ratio"},
   "transform":[{"filter":"datum.p==='Q'"},{"lookup":"i","from":{"data":{"name":"bins"},"key":"i","fields":["lo","hi"]}},{"fold":["lo","hi"],"as":["edge","x"]}],
   "mark":{"type":"line","clip":true,"strokeWidth":1.2},
   "encoding":{
    "x":{"field":"x","type":"quantitative","scale":{"domain":[100,1400],"nice":false},"axis":{"orient":"top","values":[200,400,600,800,1000,1200],"labels":false,"title":null}},
    "y":{"datum":1,"type":"quantitative","scale":{"domain":[0.9,1.1],"nice":false},"axis":{"orient":"right","values":[0.9,0.95,1.0,1.05,1.1],"labels":false,"title":null}},
    "stroke":{"field":"s","type":"nominal","scale":{"domain":["NLO","LO ⊕ Dipoles","NLO ⊕ Dipoles","NLO ⊕ PS"],"range":["#000000","#9a9aff","#0000ff","#ff0000"]}},
    "order":{"value":null}
   }}
 ],
 "resolve":{"axis":{"x":"independent","y":"independent"}}
},
{
 "width":351,"height":70,
 "layer":[
  {"data":{"name":"ratio"},
   "transform":[{"filter":"datum.p==='T'"},{"lookup":"i","from":{"data":{"name":"bins"},"key":"i","fields":["lo","hi"]}}],
   "mark":{"type":"rect","clip":true,"fillOpacity":0.3,"strokeWidth":1},
   "encoding":{
    "x":{"field":"lo","type":"quantitative","scale":{"domain":[100,1400],"nice":false},"axis":{"orient":"bottom","values":[200,400,600,800,1000,1200,1400],"format":"d","labelPadding":11,"title":"M(e⁺ νₑ μ⁻ ν̄μ) [GeV]","titleX":175.5,"titleY":27,"titleBaseline":"alphabetic","titleFontSize":12}},
    "x2":{"field":"hi"},
    "y":{"field":"l","type":"quantitative","scale":{"domain":[0.8,1.2],"nice":false},"axis":{"orient":"left","values":[0.8,0.9,1.0,1.1,1.2],"labels":false,"title":"μtot","titleX":-35.5,"titleY":35,"titleBaseline":"middle"}},
    "y2":{"field":"h"},
    "fill":{"field":"s","type":"nominal","sort":["NLO","LO ⊕ Dipoles","NLO ⊕ Dipoles","NLO ⊕ PS"],"scale":{"range":["#000000","#6060ff","#0000ff","#ff0000"]}},
    "stroke":{"field":"s","type":"nominal","scale":{"domain":["NLO","LO ⊕ Dipoles","NLO ⊕ Dipoles","NLO ⊕ PS"],"range":["#000000","#9a9aff","#0000ff","#ff0000"]}},
    "strokeOpacity":{"condition":[{"test":"datum.s==='NLO'","value":0},{"test":"datum.s==='LO ⊕ Dipoles'","value":0.5}],"value":0.9}
   }},
  {"data":{"name":"ratio"},
   "transform":[{"filter":"datum.p==='T'"},{"lookup":"i","from":{"data":{"name":"bins"},"key":"i","fields":["lo","hi"]}},{"fold":["lo","hi"],"as":["edge","x"]}],
   "mark":{"type":"line","clip":true,"strokeWidth":1.2},
   "encoding":{
    "x":{"field":"x","type":"quantitative","scale":{"domain":[100,1400],"nice":false},"axis":{"orient":"top","values":[200,400,600,800,1000,1200],"labels":false,"title":null}},
    "y":{"datum":1,"type":"quantitative","scale":{"domain":[0.8,1.2],"nice":false},"axis":{"orient":"right","values":[0.8,0.9,1.0,1.1,1.2],"labelExpr":"slice(format(datum.value,'.1f'),0,2)","labelPadding":10,"labelFontSize":11,"title":null}},
    "stroke":{"field":"s","type":"nominal","scale":{"domain":["NLO","LO ⊕ Dipoles","NLO ⊕ Dipoles","NLO ⊕ PS"],"range":["#000000","#9a9aff","#0000ff","#ff0000"]}},
    "order":{"value":null}
   }}
 ],
 "resolve":{"axis":{"x":"independent","y":"independent"}}
}
]
}
